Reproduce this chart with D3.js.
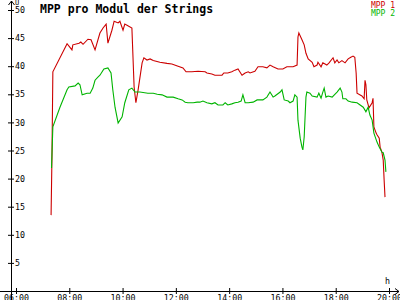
<!DOCTYPE html>
<html>
<head>
<meta charset="utf-8">
<script src="https://cdn.jsdelivr.net/npm/d3@7"></script>
<style>
  body { margin: 0; background: #fff; }
  text { font-family: "DejaVu Sans Mono", "Liberation Mono", monospace; fill: #000; }
</style>
</head>
<body>
<script>
"use strict";
// chart data
var title = "MPP pro Modul der Strings";
var seriesNames = ["MPP 1", "MPP 2"];
var seriesColors = ["#cc0000", "#00b400"];
var yTicks = [5, 10, 15, 20, 25, 30, 35, 40, 45, 50];

var mpp1Times = ["07:19","07:21","07:23","07:55","08:06","08:08","08:22","08:26","08:31","08:42",
  "08:49","08:58","09:09","09:16","09:23","09:27","09:36","09:41","09:50","09:54",
  "10:01","10:05","10:10","10:21","10:26","10:30","10:35","10:44","10:48","10:55",
  "11:02","11:09","11:24","11:40","11:51","12:05","12:16","12:23","12:36","12:50",
  "13:06","13:10","13:21","13:28","13:44","13:48","13:57","14:06","14:13","14:20",
  "14:24","14:29","14:36","14:43","14:47","14:58","15:05","15:16","15:25","15:32",
  "15:39","15:50","16:01","16:10","16:24","16:33","16:35","16:37","16:44","16:49",
  "16:53","16:58","17:07","17:11","17:18","17:20","17:27","17:31","17:40","17:45",
  "17:54","17:58","18:03","18:07","18:14","18:21","18:28","18:34","18:39","18:43",
  "18:46","18:48","18:59","19:04","19:06","19:08","19:10","19:15","19:22","19:24",
  "19:26","19:31","19:33","19:38","19:40","19:44","19:47","19:49","19:51"];
var mpp1Values = [13.5,24,39,44,42.9,43.8,44.1,44.3,43.9,44.8,
  44.7,42.9,45.9,46.8,47.5,44.1,46.4,48.0,47.7,48.0,
  46.4,47.5,47.3,46.8,36.3,33.5,35.8,40.6,41.5,41.1,
  41.3,41.0,40.7,40.5,40.4,40.0,39.7,39.0,39.0,39.1,
  39.0,38.8,38.6,38.4,38.4,38.8,38.8,39.0,39.3,39.5,
  39.0,38.4,38.8,39.0,38.8,39.1,39.9,39.9,39.7,40.2,
  39.9,39.5,39.5,39.9,39.9,40.2,45.2,45.9,44.7,43.8,
  42.3,41.3,40.7,39.9,40.2,40.7,39.9,40.6,40.2,40.6,
  41.5,40.6,41.1,40.6,41.0,40.6,41.3,41.6,41.8,41.6,
  38.8,35.2,34.7,34.2,37.5,36.7,34.0,32.6,33.5,34.3,
  29.2,28.1,27.8,27.2,25.6,24.7,23.3,19.8,16.7];

var mpp2Times = ["07:20","07:23","07:39","07:55","07:59","08:13","08:20","08:24","08:29","08:40",
  "08:47","08:53","08:58","09:05","09:09","09:18","09:27","09:34","09:38","09:43",
  "09:50","09:59","10:05","10:14","10:21","10:28","10:39","10:57","11:09","11:18",
  "11:29","11:40","11:54","12:05","12:14","12:21","12:27","12:39","12:48","12:54",
  "13:01","13:10","13:21","13:28","13:35","13:46","13:51","13:57","14:06","14:13",
  "14:20","14:27","14:31","14:36","14:43","14:54","15:03","15:16","15:25","15:32",
  "15:39","15:43","15:55","15:59","16:04","16:13","16:17","16:24","16:28","16:33",
  "16:35","16:40","16:44","16:46","16:49","16:51","16:53","16:55","17:02","17:07",
  "17:18","17:22","17:27","17:31","17:34","17:38","17:43","17:52","17:58","18:03",
  "18:10","18:14","18:16","18:23","18:28","18:37","18:48","18:55","19:02","19:08",
  "19:13","19:17","19:22","19:26","19:33","19:38","19:44","19:47","19:51","19:53"];
var mpp2Values = [21.9,29.2,32.7,35.8,36.3,36.5,37.0,36.7,34.9,35.2,
  35.2,36.1,37.5,38.1,38.4,39.5,39.7,38.8,35.8,32.7,
  29.9,31.0,33.5,35.8,36.1,35.4,35.4,35.2,35.2,35.0,
  34.9,34.5,34.5,34.2,34.0,33.6,33.5,33.5,33.6,33.6,
  33.8,33.5,33.3,33.5,33.1,33.1,33.5,33.1,33.3,33.5,
  33.6,33.8,34.9,33.5,33.5,33.6,34.0,34.0,34.5,35.4,
  34.5,34.7,35.4,35.8,34.0,33.8,33.5,33.8,34.9,34.5,
  30.4,27.2,25.6,25.1,27.4,31.0,34.5,35.4,35.2,34.7,
  34.5,35.2,34.3,35.4,36.1,34.5,34.7,34.5,35.0,35.4,
  36.1,35.4,34.2,34.2,33.8,33.6,33.5,33.1,32.7,31.9,
  32.7,31.3,30.4,28.1,26.5,25.6,24.7,24.6,23.3,21.2];

var width = 400;
var height = 300;
var parseTime = d3.timeParse("%H:%M");

var svg = d3.select("body").append("svg")
  .attr("width", width)
  .attr("height", height);

var x = d3.scaleTime()
  .domain([parseTime("06:00"), parseTime("20:00")])
  .range([16, 389]);
var y = d3.scaleLinear()
  .domain([0, 50])
  .range([291, 10]);

var axisX = 11;   // where the y axis sits
var axisY = y(0); // where the x axis sits

// series lines
var line = d3.line()
  .x(function(d) { return x(d.t); })
  .y(function(d) { return y(d.v); });

var series = [
  { times: mpp1Times, values: mpp1Values },
  { times: mpp2Times, values: mpp2Values }
];
series.forEach(function(s, i) {
  var pts = s.times.map(function(t, j) { return { t: parseTime(t), v: s.values[j] }; });
  svg.append("path")
    .datum(pts)
    .attr("fill", "none")
    .attr("stroke", seriesColors[i])
    .attr("stroke-width", 1.1)
    .attr("d", line);
});

// x axis
var gx = svg.append("g")
  .attr("transform", "translate(0," + axisY + ")")
  .call(d3.axisBottom(x)
    .ticks(d3.timeHour.every(2))
    .tickFormat(d3.timeFormat("%H:%M"))
    .tickSize(3)
    .tickPadding(1));
gx.select(".domain").remove();
gx.selectAll(".tick line").attr("y1", -3).attr("stroke", "#000");
gx.selectAll(".tick text")
  .attr("font-family", "DejaVu Sans Mono")
  .attr("font-size", 8.3)
  .attr("fill", "#000");

// y axis
var gy = svg.append("g")
  .attr("transform", "translate(" + axisX + ",0)")
  .call(d3.axisRight(y)
    .tickValues(yTicks)
    .tickSize(3)
    .tickPadding(1));
gy.select(".domain").remove();
gy.selectAll(".tick line").attr("x1", -3).attr("stroke", "#000");
gy.selectAll(".tick text")
  .attr("font-family", "DejaVu Sans Mono")
  .attr("font-size", 8.3)
  .attr("fill", "#000");

// axis lines with arrows
svg.append("line")
  .attr("x1", 0).attr("x2", 399)
  .attr("y1", axisY + 0.5).attr("y2", axisY + 0.5)
  .attr("stroke", "#000");
svg.append("path")
  .attr("d", "M395,288.5L399,291.5L395,294.5")
  .attr("fill", "none").attr("stroke", "#000");
svg.append("line")
  .attr("x1", axisX + 0.5).attr("x2", axisX + 0.5)
  .attr("y1", 1).attr("y2", height)
  .attr("stroke", "#000");
svg.append("path")
  .attr("d", "M8.5,5L11.5,1L14.5,5")
  .attr("fill", "none").attr("stroke", "#000");

svg.append("text")
  .attr("x", 15).attr("y", 5)
  .attr("font-size", 7)
  .text("U");
svg.append("text")
  .attr("x", 385).attr("y", 284)
  .attr("font-size", 8.3)
  .text("h");

// title
svg.append("text")
  .attr("x", 40).attr("y", 13)
  .attr("font-size", 11.5)
  .attr("font-weight", "bold")
  .text(title);

// legend
seriesNames.forEach(function(name, i) {
  svg.append("text")
    .attr("x", 395).attr("y", 7.5 + i * 8)
    .attr("text-anchor", "end")
    .attr("font-size", 8)
    .style("fill", seriesColors[i])
    .text(name);
});
</script>
</body>
</html>
